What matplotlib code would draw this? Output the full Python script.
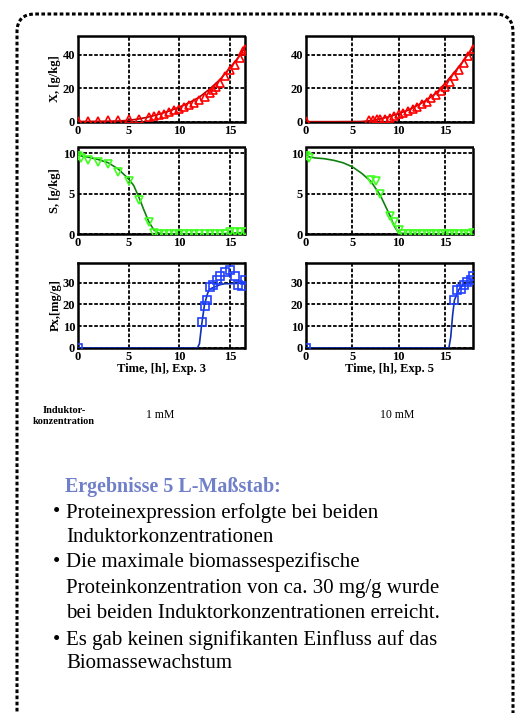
import matplotlib.pyplot as plt
from matplotlib.patches import FancyBboxPatch

plt.rcParams['font.family'] = ['Liberation Serif', 'DejaVu Serif']

# ---- Exp. 3 (1 mM) ----
t3_x_fit = [0, 2, 4, 5, 6, 7, 8, 9, 10, 11, 12, 13, 14, 15, 16, 16.5]
x3_fit = [0.3, 0.4, 0.6, 1.0, 1.8, 3.0, 4.6, 6.5, 8.8, 11.5, 14.8, 19.5, 25, 32, 39.5, 44]
t3_x_pts = [0, 1, 2, 3, 4, 5, 6, 7, 7.5, 8, 8.5, 9, 9.5, 10, 10.5, 11, 11.5, 12, 12.5, 13,
            13.3, 13.6, 14, 14.5, 15, 15.5, 16, 16.3, 16.5]
x3_pts = [0.5, 0.5, 0.5, 1, 1, 1.5, 1.5, 3, 3.5, 4, 5, 6, 7, 8, 9, 10, 11.5, 13, 15, 17,
          19, 21, 23, 27, 31, 34, 38, 42, 43]

t3_s_fit = [0, 1, 2, 3, 4, 5, 5.5, 6, 6.5, 7, 7.5, 8, 8.5, 10, 12, 14, 15, 16.5]
s3_fit = [9.7, 9.5, 9.2, 8.8, 8.0, 6.8, 6.0, 4.6, 3.0, 1.5, 0.5, 0.1, 0, 0, 0, 0, 0.1, 0.2]
t3_s_pts = [0, 0.3, 1, 2, 3, 4, 5, 6, 7, 7.5, 8, 8.5, 9, 9.5, 10, 10.5, 11, 11.5, 12, 12.5,
            13, 13.5, 14, 14.5, 15, 15.5, 16, 16.5]
s3_pts = [9.6, 9.4, 9.2, 8.9, 8.7, 7.7, 6.5, 4.2, 1.5, 0.1, 0, 0, 0, 0, 0, 0, 0, 0, 0, 0,
          0, 0, 0, 0, 0.2, 0.2, 0.2, 0.3]

t3_p_fit = [0, 11.8, 12.0, 12.2, 12.5, 12.8, 13, 13.5, 14, 14.5, 15, 16, 16.5]
p3_fit = [0, 0, 2, 10, 20, 25, 27, 28, 29, 29.5, 29.5, 29.7, 30]
t3_p_pts = [0, 12.3, 12.5, 12.7, 13, 13.3, 13.7, 14, 14.5, 15, 15.5, 15.8, 16.2, 16.5]
p3_pts = [0, 12, 19.5, 22, 28, 29, 31, 33, 35, 36, 33, 29, 28.5, 31]

# ---- Exp. 5 (10 mM) ----
t5_x_fit = [0, 3, 6, 7, 8, 9, 10, 11, 12, 13, 14, 15, 16, 17, 18]
x5_fit = [0.2, 0.2, 0.3, 0.8, 1.8, 3.2, 5, 7, 9.8, 13, 17, 23, 29.5, 36.5, 44]
t5_x_pts = [0, 6.8, 7.2, 7.6, 8, 8.5, 9, 9.5, 10, 10.5, 11, 11.5, 12, 12.5, 13, 13.5, 14,
            14.5, 15, 15.5, 16, 16.5, 17, 17.5, 18]
x5_pts = [0.5, 1, 1, 1.5, 1.5, 2, 2.5, 3.5, 4.5, 5.5, 6.5, 7.5, 9, 10.5, 12, 14, 16,
          18.5, 21, 24, 27, 31, 35, 39, 43]

t5_s_fit = [0, 1, 2, 3, 4, 5, 6, 7, 8, 8.5, 9, 9.5, 10, 12, 15, 18]
s5_fit = [9.6, 9.4, 9.3, 9.1, 8.8, 8.3, 7.5, 6.5, 4.8, 3.6, 2.4, 1.0, 0.1, 0, 0, 0]
t5_s_pts = [0, 0.3, 7, 7.5, 8, 9, 9.5, 10, 10.5, 11, 11.5, 12, 12.5, 13, 13.5, 14, 14.5,
            15, 15.5, 16, 16.5, 17, 17.5, 18]
s5_pts = [9.6, 9.4, 6.7, 6.5, 5.0, 2.2, 1.5, 0.5, 0, 0, 0, 0, 0, 0, 0, 0, 0,
          0, 0, 0, 0, 0, 0, 0.1]

t5_p_fit = [0, 15.4, 15.6, 15.8, 16, 16.5, 17, 17.5, 18]
p5_fit = [0, 0, 5, 15, 22, 27, 29, 30, 31]
t5_p_pts = [0, 16, 16.3, 16.7, 17, 17.3, 17.8, 18]
p5_pts = [0, 22, 26.5, 27, 29, 30.5, 31, 33]

xmax = [16.5, 18]
x_ticks = [0, 5, 10, 15]
ylabels = ["X, [g/kg]", "S, [g/kg]", "Px,[mg/g]"]
ylims = [(0, 51), (0, 10.75), (0, 39)]
y_ticks = [[0, 20, 40], [0, 5, 10], [0, 10, 20, 30]]
xlabels = ["Time, [h], Exp. 3", "Time, [h], Exp. 5"]
conc = ["1 mM", "10 mM"]

series = [
    [(t3_x_fit, x3_fit, t3_x_pts, x3_pts), (t3_s_fit, s3_fit, t3_s_pts, s3_pts),
     (t3_p_fit, p3_fit, t3_p_pts, p3_pts)],
    [(t5_x_fit, x5_fit, t5_x_pts, x5_pts), (t5_s_fit, s5_fit, t5_s_pts, s5_pts),
     (t5_p_fit, p5_fit, t5_p_pts, p5_pts)],
]
styles = [("#b00000", "red", "^"), ("#108010", "#40ff20", "v"), ("#1030b0", "#2040ff", "s")]

W, H = 515, 713
fig = plt.figure(figsize=(W / 100, H / 100), dpi=100)

# rounded dashed frame
frame = FancyBboxPatch((17 / W, -0.05), 496 / W, (H - 14) / H + 0.05,
                       boxstyle="round,pad=0,rounding_size=0.035",
                       transform=fig.transFigure, fill=False, ec="black",
                       lw=2.2, ls=(0, (1.2, 0.8)), mutation_aspect=W / H)
fig.patches.append(frame)

col_left = [78, 306]
col_right = [245, 473]
row_top = [36, 147, 263]
row_bot = [122, 234, 348]
dash = (0, (2, 1))

for c in range(2):
    for r in range(3):
        ax = fig.add_axes([col_left[c] / W, 1 - row_bot[r] / H,
                           (col_right[c] - col_left[c]) / W,
                           (row_bot[r] - row_top[r]) / H])
        tf, yf, tp, yp = series[c][r]
        lc, mc, mk = styles[r]
        ax.plot(tf, yf, color=lc, lw=1.2, zorder=3)
        ax.plot(tp, yp, ls="none", marker=mk, ms=5.5, mfc="none", mec=mc, mew=1.2, zorder=4)
        ax.set_xlim(0, xmax[c])
        ax.set_ylim(*ylims[r])
        ax.set_xticks(x_ticks)
        ax.set_yticks(y_ticks[r])
        ax.grid(True, color="black", ls=dash, lw=1.3)
        ax.set_axisbelow(True)
        for sp in ax.spines.values():
            sp.set_linestyle((0, (1.5, 1)))
            sp.set_linewidth(1.8)
        ax.tick_params(length=0, labelsize=9)
        ax.tick_params(axis="y", pad=2)
        ax.tick_params(axis="x", pad=2)
        for lab in ax.get_xticklabels() + ax.get_yticklabels():
            lab.set_fontweight("bold")
        if c == 0:
            ax.set_ylabel(ylabels[r], fontsize=9, fontweight="bold", labelpad=1)
        if r == 2:
            ax.set_xlabel(xlabels[c], fontsize=9, fontweight="bold", labelpad=0)

fig.text(64 / W, 1 - 416 / H, "Induktor-\nkonzentration", ha="center", va="center",
         fontsize=7.5, fontweight="bold", linespacing=1.2)
fig.text(160 / W, 1 - 415 / H, conc[0], ha="center", va="center", fontsize=8.5)
fig.text(397 / W, 1 - 415 / H, conc[1], ha="center", va="center", fontsize=8.5)

fig.text(65 / W, 1 - 487 / H, "Ergebnisse 5 L-Maßstab:", ha="left", va="center",
         fontsize=14.4, fontweight="bold", color="#7080c8")
lines = [
    ("•", "Proteinexpression erfolgte bei beiden"),
    ("", "Induktorkonzentrationen"),
    ("•", "Die maximale biomassespezifische"),
    ("", "Proteinkonzentration von ca. 30 mg/g wurde"),
    ("", "bei beiden Induktorkonzentrationen erreicht."),
    ("•", "Es gab keinen signifikanten Einfluss auf das"),
    ("", "Biomassewachstum"),
]
line_y = [513, 537, 562, 588, 613, 640, 663]
for (b, txt), y in zip(lines, line_y):
    if b:
        fig.text(53 / W, 1 - y / H, b, ha="left", va="center", fontsize=15)
    fig.text(66 / W, 1 - y / H, txt, ha="left", va="center", fontsize=15)

fig.savefig("out.png", dpi=100)
